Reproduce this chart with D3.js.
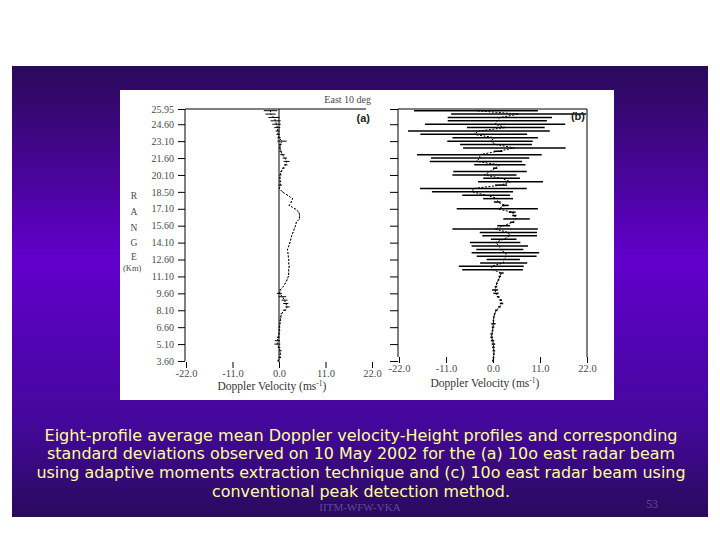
<!DOCTYPE html>
<html><head><meta charset="utf-8">
<script src="https://cdn.jsdelivr.net/npm/d3@7"></script>
<style>html,body{margin:0;padding:0;background:#fff;}svg{display:block;}</style>
</head><body>
<svg id="c" width="720" height="540"></svg>
<script>
// ---- data ----
const heights = [3.6,3.9,4.2,4.5,4.8,5.1,5.4,5.7,6.0,6.3,6.6,6.9,7.2,7.5,7.8,8.1,8.4,8.7,9.0,9.3,9.6,9.9,10.2,10.5,10.8,11.1,11.4,11.7,12.0,12.3,12.6,12.9,13.2,13.5,13.8,14.1,14.4,14.7,15.0,15.3,15.6,15.9,16.2,16.5,16.8,17.1,17.4,17.7,18.0,18.3,18.6,18.9,19.2,19.5,19.8,20.1,20.4,20.7,21.0,21.3,21.6,21.9,22.2,22.5,22.8,23.1,23.4,23.7,24.0,24.3,24.6,24.9,25.2,25.5,25.8];
const meanA = [-0.2,0.2,0.3,0.3,0.0,-0.4,-0.4,-0.2,0.0,0.1,0.1,0.2,0.3,0.4,0.6,1.3,2.0,1.6,1.3,0.8,0.1,0.3,1.0,1.5,1.9,2.2,2.3,2.3,2.4,2.3,2.3,2.2,2.1,2.0,2.3,2.6,2.8,3.0,3.3,3.6,3.9,4.1,4.8,4.9,4.7,3.8,2.4,2.9,3.2,2.0,0.8,0.1,0.3,0.3,0.2,0.3,0.5,1.0,1.6,1.8,1.4,0.8,0.4,0.2,0.3,0.7,0.0,-0.2,-0.3,-0.4,-0.6,-0.8,-1.2,-2.0,-2.0];
const sdA = [0.2,0.3,0.2,0.3,0.3,0.7,0.6,0.3,0.2,0.2,0.2,0.2,0.2,0.2,0.2,0.4,0.5,0.6,0.7,0.9,0.6,0.2,0.1,0.1,0.1,0.1,0.1,0.1,0.1,0.1,0.1,0.1,0.1,0.1,0.1,0.1,0.1,0.1,0.1,0.1,0.1,0.1,0.1,0.1,0.1,0.1,0.1,0.1,0.1,0.1,0.1,0.1,0.4,0.2,0.2,0.3,0.2,0.3,0.4,0.7,0.5,0.5,0.3,0.3,0.3,1.1,0.4,0.4,0.5,0.7,1.0,1.2,1.3,1.2,1.6];
const meanB = [0.0,0.1,0.2,0.2,0.1,0.1,-0.1,-0.3,-0.3,-0.1,0.0,0.1,0.1,0.2,0.4,0.8,1.5,2.0,1.8,1.2,0.7,0.5,0.7,0.9,1.3,1.6,2.0,-0.1,-0.4,2.5,2.4,3.2,2.9,1.6,1.6,0.5,2.5,3.9,3.6,0.5,2.5,4.5,5.5,5.0,4.5,1.0,2.9,1.0,1.2,-1.6,-4.8,-4.6,1.9,4.1,2.0,-2.0,-0.7,0.5,1.6,-4.0,-3.0,-3.2,1.2,5.0,0.7,-0.7,0.5,-4.5,-3.3,3.0,0.5,1.0,1.6,6.0,-4.0];
const sdB = [0.2,0.2,0.2,0.3,0.3,0.4,0.4,0.3,0.3,0.2,0.3,0.5,0.2,0.2,0.2,0.3,0.3,0.4,0.3,0.3,0.6,0.7,0.3,0.2,0.2,0.3,0.5,7.1,7.6,5.5,3.9,7.0,7.9,5.5,6.6,5.9,3.0,6.4,6.7,10.0,1.5,0.5,3.1,0.5,0.8,9.5,0.8,0.8,3.5,5.6,9.5,12.5,1.4,7.6,4.3,7.5,8.6,0.5,6.0,10.8,11.5,14.6,1.0,12.0,8.4,10.0,10.0,12.5,16.6,9.1,16.4,11.6,12.2,15.8,14.5];
const yTickValues = [3.6,5.1,6.6,8.1,9.6,11.1,12.6,14.1,15.6,17.1,18.6,20.1,21.6,23.1,24.6,25.95];
const yTickLabels = ["3.60","5.10","6.60","8.10","9.60","11.10","12.60","14.10","15.60","17.10","18.50","20.10","21.60","23.10","24.60","25.95"];
const xTickValues = [-22,-11,0,11,22];
const xTickLabels = ["-22.0","-11.0","0.0","11.0","22.0"];
const rangeLetters = ["R","A","N","G","E"];
const captionLines = [
  "Eight-profile average mean Doppler velocity-Height profiles and corresponding",
  "standard deviations observed on 10 May 2002 for the (a) 10o east radar beam",
  "using adaptive moments extraction technique and (c) 10o east radar beam using",
  "conventional peak detection method."
];

// ---- drawing ----
const svg = d3.select("#c");
const defs = svg.append("defs");
const grad = defs.append("linearGradient").attr("id","bg").attr("x1",0).attr("y1",0).attr("x2",0).attr("y2",1);
grad.append("stop").attr("offset","0").attr("stop-color","#2a0a5a");
grad.append("stop").attr("offset","0.43").attr("stop-color","#6100cb");
grad.append("stop").attr("offset","0.8").attr("stop-color","#43089a");
grad.append("stop").attr("offset","1").attr("stop-color","#2a0a5c");

svg.append("rect").attr("width",720).attr("height",540).attr("fill","#fff");
svg.append("rect").attr("x",12).attr("y",66).attr("width",696).attr("height",451).attr("fill","url(#bg)");
svg.append("rect").attr("x",120).attr("y",90).attr("width",494).attr("height",310).attr("fill","#fff");

const y = d3.scaleLinear().domain([3.6,25.95]).range([361,109]);
const xA = d3.scaleLinear().domain([-22,22]).range([186,372]);
const xB = d3.scaleLinear().domain([-22,22]).range([399,587]);
const serif = "'Liberation Serif','DejaVu Serif',serif";
const labCol = "#4a4a4a";

const dataA = heights.map((h,i)=>({h, m:meanA[i], s:sdA[i]}));
const dataB = heights.map((h,i)=>({h, m:meanB[i], s:sdB[i]}));
const clampV = v => Math.max(-22, Math.min(22, v));

// Panel (a)
const gA = svg.append("g");
const axA = gA.append("g").attr("transform","translate(185,0)")
  .call(d3.axisLeft(y).tickValues(yTickValues).tickFormat((d,i)=>yTickLabels[i]).tickSize(7).tickPadding(4));
axA.select(".domain").remove();
axA.selectAll("line").attr("stroke","#000");
axA.selectAll("text").attr("font-family",serif).attr("font-size",10).attr("fill",labCol);
gA.append("line").attr("x1",185).attr("x2",185).attr("y1",y(25.95)).attr("y2",y(3.6)).attr("stroke","#000");
gA.append("line").attr("x1",185).attr("x2",366).attr("y1",y(25.95)).attr("y2",y(25.95)).attr("stroke","#000");
gA.append("line").attr("x1",xA(0)).attr("x2",xA(0)).attr("y1",y(25.95)).attr("y2",y(3.6)+1).attr("stroke","#000");
const xaA = gA.append("g").attr("transform","translate(0,362)")
  .call(d3.axisBottom(xA).tickValues(xTickValues).tickFormat((d,i)=>xTickLabels[i]).tickSize(6).tickPadding(2));
xaA.select(".domain").remove();
xaA.selectAll("line").attr("stroke","#000");
xaA.selectAll("text").attr("font-family",serif).attr("font-size",10.5).attr("fill",labCol);
gA.selectAll(".ebA").data(dataA).join("line")
  .attr("x1",d=>xA(clampV(d.m-d.s))).attr("x2",d=>xA(clampV(d.m+d.s)))
  .attr("y1",d=>y(d.h)).attr("y2",d=>y(d.h)).attr("stroke","#000").attr("stroke-width",1);
gA.append("path").datum(dataA).attr("fill","none").attr("stroke","#000").attr("stroke-width",1)
  .attr("stroke-dasharray","2,1.5")
  .attr("d",d3.line().x(d=>xA(d.m)).y(d=>y(d.h)));
gA.append("text").attr("x",371).attr("y",103).attr("text-anchor","end").attr("font-family",serif)
  .attr("font-size",10).attr("fill",labCol).text("East 10 deg");
gA.append("text").attr("x",370).attr("y",122).attr("text-anchor","end").attr("font-family","'Liberation Sans',sans-serif")
  .attr("font-size",11).attr("font-weight","bold").attr("fill","#222").text("(a)");
rangeLetters.forEach((L,i)=>{
  gA.append("text").attr("x",134).attr("y",[199,215,231,246,260][i]).attr("text-anchor","middle")
    .attr("font-family",serif).attr("font-size",9.5).attr("fill",labCol).text(L);
});
gA.append("text").attr("x",123).attr("y",271).attr("font-family",serif).attr("font-size",8.5).attr("fill",labCol).text("(Km)");
const tA = gA.append("text").attr("x",272).attr("y",390).attr("text-anchor","middle").attr("font-family",serif)
  .attr("font-size",11.5).attr("fill","#333");
tA.append("tspan").text("Doppler Velocity (ms");
tA.append("tspan").attr("dy",-4).attr("font-size",7.5).text("-1");
tA.append("tspan").attr("dy",4).text(")");

// Panel (b)
const gB = svg.append("g");
const axB = gB.append("g").attr("transform","translate(398,0)")
  .call(d3.axisLeft(y).tickValues(yTickValues).tickFormat("").tickSize(8));
axB.select(".domain").remove();
axB.selectAll("line").attr("stroke","#000");
gB.append("line").attr("x1",398).attr("x2",398).attr("y1",109).attr("y2",357).attr("stroke","#000");
gB.append("line").attr("x1",398).attr("x2",587).attr("y1",109).attr("y2",109).attr("stroke","#000");
gB.append("line").attr("x1",587).attr("x2",587).attr("y1",109).attr("y2",357).attr("stroke","#000");
const xaB = gB.append("g").attr("transform","translate(0,357)")
  .call(d3.axisBottom(xB).tickValues(xTickValues).tickFormat((d,i)=>xTickLabels[i]).tickSize(6).tickPadding(2));
xaB.select(".domain").remove();
xaB.selectAll("line").attr("stroke","#000");
xaB.selectAll("text").attr("font-family",serif).attr("font-size",10.5).attr("fill",labCol);
gB.selectAll(".ebB").data(dataB).join("line")
  .attr("x1",d=>xB(clampV(d.m-d.s))).attr("x2",d=>xB(clampV(d.m+d.s)))
  .attr("y1",d=>y(d.h)).attr("y2",d=>y(d.h)).attr("stroke","#000").attr("stroke-width",1.5);
gB.append("path").datum(dataB).attr("fill","none").attr("stroke","#000").attr("stroke-width",1)
  .attr("stroke-dasharray","2,1.5")
  .attr("d",d3.line().x(d=>xB(d.m)).y(d=>y(d.h)));
gB.append("text").attr("x",585).attr("y",120).attr("text-anchor","end").attr("font-family","'Liberation Sans',sans-serif")
  .attr("font-size",11).attr("font-weight","bold").attr("fill","#222").text("(b)");
const tB = gB.append("text").attr("x",485).attr("y",387).attr("text-anchor","middle").attr("font-family",serif)
  .attr("font-size",11.5).attr("fill","#333");
tB.append("tspan").text("Doppler Velocity (ms");
tB.append("tspan").attr("dy",-4).attr("font-size",7.5).text("-1");
tB.append("tspan").attr("dy",4).text(")");

// Footer
svg.append("text").attr("x",360).attr("y",511).attr("text-anchor","middle").attr("font-family",serif)
  .attr("font-size",11).attr("fill","#5e4a96").text("IITM-WFW-VKA");
svg.append("text").attr("x",652).attr("y",508).attr("text-anchor","middle").attr("font-family",serif)
  .attr("font-size",12).attr("fill","#5e4a96").text("53");

// Caption
const capWidths = [633,628,649,298];
const capY = [441,459,478,497];
captionLines.forEach((t,i)=>{
  svg.append("text").attr("x",361).attr("y",capY[i]).attr("text-anchor","middle")
    .attr("font-family","'DejaVu Sans Condensed','DejaVu Sans',sans-serif").attr("font-size",16.5).attr("fill","#ffff99")
    .attr("textLength",capWidths[i]).attr("lengthAdjust","spacingAndGlyphs").text(t);
});
</script>
</body></html>
